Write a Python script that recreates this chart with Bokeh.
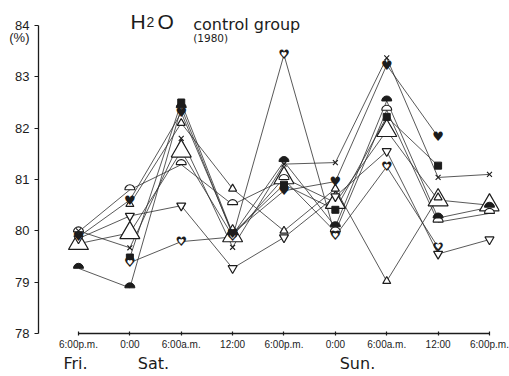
import math

from bokeh.core.properties import value
from bokeh.embed import file_html
from bokeh.models import FixedTicker, Label, LinearAxis
from bokeh.plotting import figure
from bokeh.resources import INLINE

nan = float("nan")

# sampling times, hours after Friday 6:00 p.m.
hours = [0, 6, 12, 18, 24, 30, 36, 42, 48]
time_labels = ["6:00p.m.", "0:00", "6:00a.m.", "12:00", "6:00p.m.",
               "0:00", "6:00a.m.", "12:00", "6:00p.m."]
y_ticks = [78, 79, 80, 81, 82, 83, 84]
day_names = ["Fri.", "Sat.", "Sun."]

# water content (%) of each subject in the control group
group_mean = [79.75, 79.96, 81.55, 79.90, 81.03, 80.55, 81.95, 80.60, 80.50]
half_disc_filled = [79.27, 78.89, 82.40, 79.92, 81.35, 80.08, 82.53, 80.25, 80.46]
half_disc_open = [79.98, 80.80, 81.29, 80.51, 81.00, 79.98, 82.35, 80.17, 80.34]
tri_down_open = [79.85, 80.29, 80.49, 79.27, 79.87, 80.67, 81.55, 79.55, 79.83]
heart_open = [nan, 79.38, 79.79, 79.88, 83.43, 79.90, 81.25, 79.68, nan]
heart_filled = [79.88, 80.60, 82.30, 79.95, 80.78, 80.96, 83.23, 81.83, nan]
square_filled = [nan, 79.48, 82.50, 79.95, 80.90, 80.41, 82.22, 81.27, nan]
cross_mark = [80.00, 79.67, 81.80, 79.68, 81.30, 81.33, 83.37, 81.04, 81.10]
tri_up_small = [nan, 80.52, 82.10, 80.82, 80.00, 80.82, 79.02, 80.65, nan]

all_series = [group_mean, half_disc_filled, half_disc_open, tri_down_open,
              heart_open, heart_filled, square_filled, cross_mark, tri_up_small]

INK = "#1c1c1c"
FONT = "Liberation Sans"
WIDE = "DejaVu Sans"
HEART = "\u2665\ufe0e"  # heart symbol kept in plain text presentation

p = figure(frame_width=461, frame_height=328,
           x_range=(-4.67, 49.17), y_range=(78, 84.39),
           min_border_left=38, min_border_right=10,
           min_border_top=5, min_border_bottom=43,
           output_backend="svg", toolbar_location=None)
p.outline_line_color = None
p.grid.visible = False
p.background_fill_color = "white"
p.border_fill_color = "white"

# time axis
p.xaxis.ticker = FixedTicker(ticks=hours)
p.xaxis.major_label_overrides = {h: t for h, t in zip(hours, time_labels)}
p.xaxis.bounds = (hours[0], hours[-1])
p.xaxis.major_tick_in = 2
p.xaxis.major_tick_out = 2
p.xaxis.minor_tick_line_color = None
p.xaxis.major_label_standoff = 3
p.xaxis.major_label_text_font_size = "10px"

# value axis; the unit sits as an extra label just under the top tick,
# the visible tick marks are drawn as minor ticks at the whole percents
unit_pos = 83.77
p.yaxis.ticker = FixedTicker(ticks=y_ticks + [unit_pos], minor_ticks=y_ticks)
p.yaxis.major_label_overrides = {unit_pos: "(%)"}
p.yaxis.bounds = (y_ticks[0], y_ticks[-1])
p.yaxis.major_tick_in = 0
p.yaxis.major_tick_out = 0
p.yaxis.major_tick_line_color = None
p.yaxis.minor_tick_in = 0
p.yaxis.minor_tick_out = 4
p.yaxis.minor_tick_line_width = 1.2
p.yaxis.minor_tick_line_color = INK
p.yaxis.major_label_standoff = 5
p.yaxis.major_label_text_font_size = "13px"

for ax in (p.xaxis, p.yaxis):
    ax.axis_line_color = INK
    ax.axis_line_width = 1.3
    ax.major_label_text_color = INK
    ax.major_label_text_font = FONT
p.xaxis.major_tick_line_color = INK
p.xaxis.major_tick_line_width = 1.2

# day names as a second, bare axis under the time axis
day_axis = LinearAxis(ticker=FixedTicker(ticks=[-0.35, 8.76, 32.58]),
                      major_label_overrides={-0.35: day_names[0],
                                             8.76: day_names[1],
                                             32.58: day_names[2]})
day_axis.axis_line_color = None
day_axis.major_tick_line_color = None
day_axis.minor_tick_line_color = None
day_axis.major_tick_in = 0
day_axis.major_tick_out = 0
day_axis.major_label_standoff = 1
day_axis.major_label_text_font = WIDE
day_axis.major_label_text_font_size = "16px"
day_axis.major_label_text_color = INK
p.add_layout(day_axis, "below")

# connecting lines
for vals in all_series:
    p.line(hours, vals, line_color="#2e2e2e", line_width=0.8)


def present(vals):
    xs = [h for h, v in zip(hours, vals) if not math.isnan(v)]
    ys = [v for v in vals if not math.isnan(v)]
    return xs, ys


# markers
x, y = present(group_mean)
p.scatter(x, y, marker="triangle", size=20, fill_color="white",
          line_color=INK, line_width=1.2)

x, y = present(half_disc_open)
p.wedge(x, y, radius=5, radius_units="screen", start_angle=0,
        end_angle=math.pi, fill_color="white", line_color=INK, line_width=1.1)

x, y = present(half_disc_filled)
p.wedge(x, y, radius=5, radius_units="screen", start_angle=0,
        end_angle=math.pi, fill_color=INK, line_color=INK)

x, y = present(tri_down_open)
p.scatter(x, y, marker="inverted_triangle", size=9, fill_color="white",
          line_color=INK, line_width=1.2)

x, y = present(tri_up_small)
p.scatter(x, y, marker="triangle", size=8, fill_color="white",
          line_color=INK, line_width=1.2)

x, y = present(square_filled)
p.scatter(x, y, marker="square", size=7, fill_color=INK, line_color=INK)

x, y = present(cross_mark)
p.scatter(x, y, marker="x", size=7, line_color=INK, line_width=1.1)

# open hearts: a dark heart with a smaller white heart inside
x, y = present(heart_open)
p.text(x, y, text=[HEART] * len(x), text_align="center",
       text_baseline="middle", text_font=value(WIDE),
       text_font_size="13px", text_color=INK)
p.text(x, y, text=[HEART] * len(x), text_align="center",
       text_baseline="middle", text_font=value(WIDE),
       text_font_size="7px", text_color="white")

x, y = present(heart_filled)
p.text(x, y, text=[HEART] * len(x), text_align="center",
       text_baseline="middle", text_font=value(WIDE),
       text_font_size="13px", text_color=INK)

# title
title_bits = [("H", 6.07, "21px"), ("2", 7.94, "14px"), ("O", 9.23, "21px")]
for txt, hx, fs in title_bits:
    p.add_layout(Label(x=hx, y=84.07, text=txt, text_font=FONT,
                       text_font_size=fs, text_color=INK,
                       text_baseline="alphabetic"))
p.add_layout(Label(x=13.4, y=84.02, text="control group", text_font=WIDE,
                   text_font_size="16px", text_color=INK,
                   text_baseline="alphabetic"))
p.add_layout(Label(x=13.4, y=83.76, text="(1980)", text_font=WIDE,
                   text_font_size="10.5px", text_color=INK,
                   text_baseline="alphabetic"))

open("out.html", "w").write(file_html(p, INLINE))
